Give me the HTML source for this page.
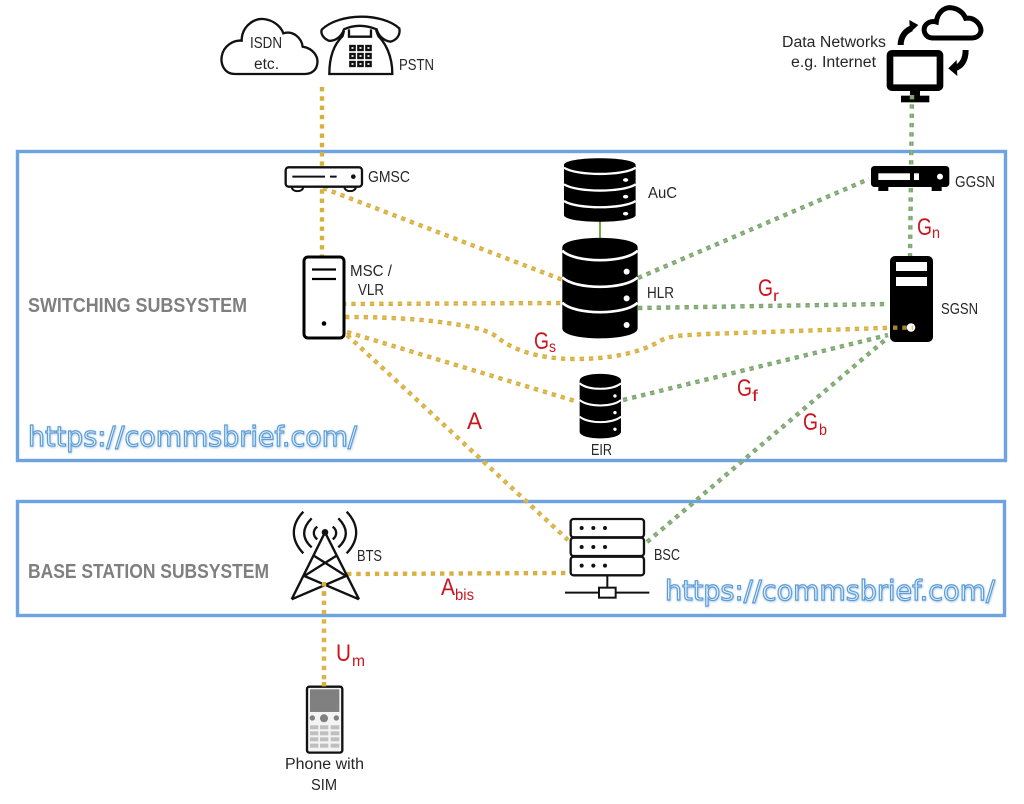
<!DOCTYPE html>
<html><head><meta charset="utf-8"><style>
html,body{margin:0;padding:0;background:#fff;width:1024px;height:804px;overflow:hidden}
svg{display:block}
text{font-family:"Liberation Sans",sans-serif}
.l{font-size:15.5px;fill:#262626}
.r{font-size:24px;fill:#c9161d}
.s{font-size:16px;fill:#c9161d}
.t{font-size:20px;font-weight:bold;fill:#7f7f7f}
.u{font-family:"DejaVu Sans",sans-serif;font-size:28px;fill:#e4effa;stroke:#5b9bd5;stroke-width:1.2px;filter:url(#gl)}
.y{fill:none;stroke:#d8b040;stroke-width:4.4;stroke-dasharray:4.4 4.9}
.g{fill:none;stroke:#7da76f;stroke-width:4.4;stroke-dasharray:4.4 4.9}
.c{fill:none;stroke:#fff;stroke-opacity:.3;stroke-width:.7;stroke-dasharray:4.4 4.9}
</style></head><body>
<svg width="1024" height="804" viewBox="0 0 1024 804" xmlns="http://www.w3.org/2000/svg">
<defs><filter id="gl" x="-5%" y="-30%" width="110%" height="160%"><feDropShadow dx="0.5" dy="0.8" stdDeviation="1" flood-color="#5b9bd5" flood-opacity=".55"/></filter></defs>
<rect width="1024" height="804" fill="#fff"/>

<!-- boxes -->
<rect x="17.5" y="151.5" width="988" height="309" fill="none" stroke="#6ca3e0" stroke-width="3.4"/>
<rect x="17.5" y="501.5" width="987" height="114" fill="none" stroke="#6ca3e0" stroke-width="3.4"/>

<!-- solid link -->
<line x1="600" y1="220" x2="600" y2="240" stroke="#70ad47" stroke-width="2"/>

<!-- yellow links -->
<path class="y" d="M322 87V258"/>
<path class="y" d="M323 188L568 282"/>
<path class="y" d="M342 304L563 303"/>
<path class="y" d="M345 317C385 317 420 319 447 323C470 326 488 330 497 337C510 348 535 359 575 359C610 359 640 353 660 341C670 335 690 335 707 334L913 327"/>
<path class="y" d="M347 332L575 401"/>
<path class="y" d="M347 335L568 540"/>
<path class="y" d="M347 574L566 573"/>
<path class="y" d="M324 582V688"/>
<path class="c" d="M342 304L563 303M347 332L575 401M347 335L568 540M324 582V688M323 188L568 282M345 317C385 317 420 319 447 323C470 326 488 330 497 337C510 348 535 359 575 359C610 359 640 353 660 341C670 335 690 335 707 334L913 327"/>

<!-- green links -->
<path class="g" d="M912 95L910 258"/>
<path class="g" d="M638 278L869 179"/>
<path class="g" d="M638 308L887 304"/>
<path class="g" d="M623 400L888 335"/>
<path class="g" d="M647 542L885 340"/>
<path class="c" d="M912 95L910 258M638 278L869 179M638 308L887 304M623 400L888 335M647 542L885 340"/>

<!-- ISDN cloud + phone -->
<g transform="translate(200,0) scale(.3333)">
<path d="M105 222C72 222 62 192 65 170C70 137 100 120 125 122C125 80 160 55 190 57C225 60 245 85 250 100C280 90 305 115 308 140C340 145 355 170 352 190C350 210 335 222 315 222Z" fill="#fff" stroke="#111" stroke-width="7"/>
<path d="M366 88C420 38 545 38 598 85C602 105 590 120 572 125C553 123 535 108 530 88C495 74 462 74 432 88C425 110 405 125 386 122C370 115 360 100 366 88Z" fill="#fff" stroke="#111" stroke-width="7"/>
<path d="M432 92L428 108C405 130 388 165 388 222H577C577 165 555 128 535 108L528 90M447 88V110H513V88" fill="none" stroke="#111" stroke-width="7"/>
<g fill="none" stroke="#111" stroke-width="7"><rect x="451" y="138" width="13" height="12"/><rect x="475" y="138" width="13" height="12"/><rect x="499" y="138" width="13" height="12"/><rect x="451" y="162" width="13" height="12"/><rect x="475" y="162" width="13" height="12"/><rect x="499" y="162" width="13" height="12"/><rect x="451" y="186" width="13" height="12"/><rect x="475" y="186" width="13" height="12"/><rect x="499" y="186" width="13" height="12"/></g>
</g>

<!-- internet -->
<g transform="translate(760,0) scale(.3333)">
<path d="M517 114C494 112 490 92 494 80C501 67 515 62 529 66C532 38 552 23 570 23C598 25 612 42 617 55C645 50 663 75 663 92C661 106 650 114 635 114Z" fill="#fff" stroke="#000" stroke-width="15"/>
<rect x="390" y="160" width="150" height="103" rx="6" fill="#fff" stroke="#000" stroke-width="20"/>
<rect x="450" y="270" width="30" height="20" fill="#000"/><rect x="423" y="287" width="85" height="20" fill="#000"/>
<path d="M422 135C422 108 438 92 455 85M617 150C617 182 603 198 585 205" fill="none" stroke="#000" stroke-width="18"/>
<path d="M448 60L475 75L450 98ZM590 180L565 205L592 228Z" fill="#000"/>
</g>
<path class="g" d="M912 95V103"/>

<!-- GMSC -->
<g transform="translate(200,0) scale(.3333)">
<path d="M275 560C275 578 310 578 310 560M433 560C433 578 468 578 468 560" fill="#fff" stroke="#111" stroke-width="6"/>
<rect x="257" y="502" width="229" height="58" rx="9" fill="#fff" stroke="#111" stroke-width="7"/>
<path d="M277 530H375M390 530H410" stroke="#111" stroke-width="6"/>
<circle cx="460" cy="530" r="7" fill="#111"/>
</g>

<!-- GGSN -->
<g transform="translate(760,0) scale(.3333)">
<rect x="333" y="498" width="235" height="63" rx="10" fill="#000"/>
<rect x="355" y="560" width="30" height="13" fill="#000"/><rect x="515" y="560" width="30" height="13" fill="#000"/>
<rect x="355" y="520" width="95" height="20" fill="#fff"/><rect x="462" y="520" width="15" height="20" fill="#fff"/>
<circle cx="540" cy="530" r="9" fill="#fff"/>
</g>

<!-- MSC -->
<rect x="304" y="257" width="40" height="81" rx="4" fill="#fff" stroke="#000" stroke-width="3"/>
<path d="M312 269.500H336M312 279H336" stroke="#000" stroke-width="2.200"/>
<circle cx="324" cy="323.500" r="2.300" fill="#000"/>

<!-- SGSN -->
<rect x="890" y="256" width="43" height="86" rx="5" fill="#000"/>
<rect x="896" y="262" width="31" height="9" fill="#fff"/><rect x="896" y="277" width="31" height="9" fill="#fff"/>
<circle cx="911" cy="327.500" r="4.300" fill="#fff"/>
<path class="y" d="M893 327.700H913" stroke-opacity=".75"/>

<!-- DBs -->
<g transform="translate(280,150) scale(.3333)">
<path d="M852 45C852 18 1067 18 1067 45V195C1067 222 852 222 852 195Z" fill="#000"/>
<path d="M852 53C890 78 1030 78 1067 53M852 103C890 128 1030 128 1067 103M852 153C890 178 1030 178 1067 153" fill="none" stroke="#fff" stroke-width="7"/>
<ellipse cx="1037" cy="90" rx="8" ry="5.500" fill="#fff"/><ellipse cx="1037" cy="140" rx="8" ry="5.500" fill="#fff"/><ellipse cx="1037" cy="191" rx="8" ry="5.500" fill="#fff"/>

<path d="M847 292C847 254 1073 254 1073 292V535C1073 575 847 575 847 535Z" fill="#000"/>
<path d="M847 302C885 340 1035 340 1073 302M847 382C885 420 1035 420 1073 382M847 458C885 496 1035 496 1073 458" fill="none" stroke="#fff" stroke-width="8"/>
<circle cx="1040" cy="365" r="9" fill="#fff"/><circle cx="1040" cy="445" r="9" fill="#fff"/><circle cx="1040" cy="525" r="9" fill="#fff"/>

<path d="M899 692C899 665 1023 665 1023 692V845C1023 872 899 872 899 845Z" fill="#000"/>
<path d="M899 700C925 722 997 722 1023 700M899 750C925 772 997 772 1023 750M899 800C925 822 997 822 1023 800" fill="none" stroke="#fff" stroke-width="6"/>
<circle cx="1005" cy="738" r="5" fill="#fff"/><circle cx="1005" cy="788" r="5" fill="#fff"/><circle cx="1005" cy="838" r="5" fill="#fff"/>
</g>

<!-- BTS + phone -->
<g transform="translate(260,500) scale(.3333)">
<g fill="none" stroke="#111" stroke-width="7">
<path d="M195 97L95 298M195 97L297 298M163 168L258 228M228 168L133 228M133 228L297 298M258 228L95 298"/>
<path d="M130 35C92 75 92 120 130 160M155 55C125 85 125 115 155 142M172 80C158 90 158 108 172 118M260 35C298 75 298 120 260 160M235 55C265 85 265 115 235 142M218 80C232 90 232 108 218 118"/>
</g>
<circle cx="195" cy="97" r="10" fill="#111"/>
<rect x="141" y="560" width="106" height="198" rx="7" fill="#f4f4f4" stroke="#111" stroke-width="7"/>
<rect x="150" y="568" width="88" height="68" fill="#808080"/>
<circle cx="157" cy="654" r="8" fill="#808080"/><circle cx="192" cy="655" r="12" fill="#808080"/><circle cx="229" cy="654" r="8" fill="#808080"/>
<g fill="#bfbfbf">
<rect x="150" y="676" width="25" height="12"/><rect x="180" y="676" width="25" height="12"/><rect x="212" y="676" width="26" height="12"/>
<rect x="150" y="694" width="25" height="12"/><rect x="180" y="694" width="25" height="12"/><rect x="212" y="694" width="26" height="12"/>
<rect x="150" y="712" width="25" height="12"/><rect x="180" y="712" width="25" height="12"/><rect x="212" y="712" width="26" height="12"/>
<rect x="150" y="731" width="25" height="12"/><rect x="180" y="731" width="25" height="12"/><rect x="212" y="731" width="26" height="12"/>
</g>
</g>
<path class="y" d="M324 582V600"/>
<path class="y" d="M324 682V688"/>

<!-- BSC -->
<g transform="translate(540,490) scale(.3333)">
<rect x="92" y="87" width="220" height="55" rx="9" fill="#fff" stroke="#111" stroke-width="7"/>
<rect x="92" y="143" width="220" height="55" rx="9" fill="#fff" stroke="#111" stroke-width="7"/>
<rect x="92" y="200" width="220" height="56" rx="9" fill="#fff" stroke="#111" stroke-width="7"/>
<g fill="#111"><circle cx="125" cy="114" r="6"/><circle cx="160" cy="114" r="6"/><circle cx="195" cy="114" r="6"/><circle cx="125" cy="171" r="6"/><circle cx="160" cy="171" r="6"/><circle cx="195" cy="171" r="6"/><circle cx="125" cy="227" r="6"/><circle cx="160" cy="227" r="6"/><circle cx="195" cy="227" r="6"/></g>
<path d="M202 256V293M75 308H177M227 308H328" stroke="#111" stroke-width="6" fill="none"/>
<rect x="177" y="293" width="50" height="30" fill="#fff" stroke="#111" stroke-width="6"/>
</g>

<!-- labels -->
<text class="l" x="250" y="48" textLength="32" lengthAdjust="spacingAndGlyphs">ISDN</text>
<text class="l" x="254" y="69" textLength="25" lengthAdjust="spacingAndGlyphs">etc.</text>
<text class="l" x="399" y="70" textLength="35" lengthAdjust="spacingAndGlyphs">PSTN</text>
<text class="l" x="368" y="182" textLength="42" lengthAdjust="spacingAndGlyphs">GMSC</text>
<text class="l" x="648" y="198" textLength="29" lengthAdjust="spacingAndGlyphs">AuC</text>
<text class="l" x="350" y="276" textLength="42" lengthAdjust="spacingAndGlyphs">MSC /</text>
<text class="l" x="358" y="295" textLength="26" lengthAdjust="spacingAndGlyphs">VLR</text>
<text class="l" x="647" y="298" textLength="27" lengthAdjust="spacingAndGlyphs">HLR</text>
<text class="l" x="941" y="314" textLength="37" lengthAdjust="spacingAndGlyphs">SGSN</text>
<text class="l" x="955" y="187" textLength="40" lengthAdjust="spacingAndGlyphs">GGSN</text>
<text class="l" x="591" y="455" textLength="21" lengthAdjust="spacingAndGlyphs">EIR</text>
<text class="l" x="357" y="561" textLength="25" lengthAdjust="spacingAndGlyphs">BTS</text>
<text class="l" x="654" y="560" textLength="26" lengthAdjust="spacingAndGlyphs">BSC</text>
<text class="l" x="285" y="769" textLength="79" lengthAdjust="spacingAndGlyphs">Phone with</text>
<text class="l" x="311" y="790" textLength="26" lengthAdjust="spacingAndGlyphs">SIM</text>
<text class="l" x="782" y="47" textLength="104" lengthAdjust="spacingAndGlyphs">Data Networks</text>
<text class="l" x="791" y="67" textLength="85" lengthAdjust="spacingAndGlyphs">e.g. Internet</text>

<text class="t" x="28" y="312" textLength="219" lengthAdjust="spacingAndGlyphs">SWITCHING SUBSYSTEM</text>
<text class="t" x="28" y="578" textLength="241" lengthAdjust="spacingAndGlyphs">BASE STATION SUBSYSTEM</text>

<text class="r" x="917" y="235" textLength="15" lengthAdjust="spacingAndGlyphs">G</text><text class="s" x="932" y="238" textLength="8" lengthAdjust="spacingAndGlyphs">n</text>
<text class="r" x="758" y="296" textLength="15" lengthAdjust="spacingAndGlyphs">G</text><text class="s" x="773" y="301" textLength="6" lengthAdjust="spacingAndGlyphs">r</text>
<text class="r" x="534" y="349" textLength="15" lengthAdjust="spacingAndGlyphs">G</text><text class="s" x="549" y="352" textLength="7" lengthAdjust="spacingAndGlyphs">s</text>
<text class="r" x="737" y="396" textLength="15" lengthAdjust="spacingAndGlyphs">G</text><text class="s" x="752" y="401" textLength="6" lengthAdjust="spacingAndGlyphs">f</text>
<text class="r" x="803" y="430" textLength="15" lengthAdjust="spacingAndGlyphs">G</text><text class="s" x="819" y="435" textLength="8" lengthAdjust="spacingAndGlyphs">b</text>
<text class="r" x="467" y="429" textLength="15" lengthAdjust="spacingAndGlyphs">A</text>
<text class="r" x="441" y="595" textLength="14" lengthAdjust="spacingAndGlyphs">A</text><text class="s" x="455" y="600" textLength="19" lengthAdjust="spacingAndGlyphs">bis</text>
<text class="r" x="336" y="661" textLength="15" lengthAdjust="spacingAndGlyphs">U</text><text class="s" x="352" y="666" textLength="13" lengthAdjust="spacingAndGlyphs">m</text>

<text class="u" x="28" y="446" textLength="329" lengthAdjust="spacingAndGlyphs">https://commsbrief.com/</text>
<text class="u" x="665" y="600" textLength="330" lengthAdjust="spacingAndGlyphs">https://commsbrief.com/</text>
</svg>
</body></html>
